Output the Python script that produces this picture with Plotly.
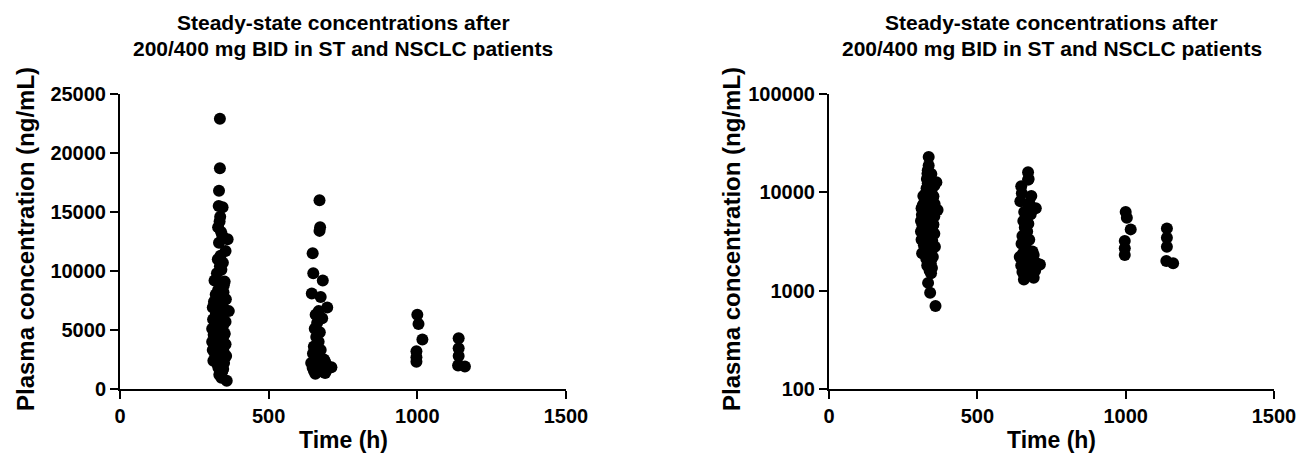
import plotly.graph_objects as go

# Steady-state plasma concentrations (ng/mL) by sampling time (h)
time_day14 = [336, 336, 333, 332, 345, 337, 335, 330, 340, 344, 362, 333, 355, 338, 329, 346,
              336, 341, 326, 318, 352, 335, 343, 330, 348, 322, 338, 356, 316, 333, 345, 327,
              312, 340, 366, 350, 322, 335, 344, 313, 330, 355, 338, 320, 346, 310, 332, 342,
              325, 352, 315, 337, 347, 322, 330, 340, 310, 334, 355, 318, 344, 326, 337, 312,
              348, 331, 341, 320, 357, 334, 325, 345, 314, 338, 350, 328, 336, 343, 331, 347,
              339, 344, 334, 341, 359, 328, 339, 321, 351, 317, 336, 324, 342, 329, 349]
conc_day14 = [22900, 18700, 16800, 15500, 15400, 14600, 14200, 13700, 13300, 13000, 12700, 12400,
              11700, 11300, 11000, 10700, 10400, 10100, 9800, 9200, 9100, 8900, 8600, 8400,
              8200, 8000, 7800, 7600, 7400, 7300, 7100, 7000, 6900, 6800, 6600, 6500, 6300,
              6200, 6000, 5900, 5800, 5700, 5600, 5400, 5300, 5100, 5000, 4900, 4800, 4700,
              4600, 4500, 4400, 4300, 4200, 4100, 4000, 3900, 3800, 3700, 3600, 3500, 3400,
              3300, 3200, 3100, 3000, 2900, 2800, 2700, 2600, 2500, 2400, 2300, 2200, 2100,
              2000, 1900, 1800, 1700, 1600, 1500, 1200, 950, 700, 7700, 6700, 5500, 4650,
              3850, 3350, 2950, 5200, 6100, 8800]

time_day28 = [671, 673, 671, 648, 650, 682, 645, 675, 697, 668, 658, 680, 663, 655, 672, 660,
              668, 652, 675, 649, 665, 686, 654, 690, 643, 672, 660, 700, 711, 648, 681, 664,
              695, 652, 676, 660, 690, 657, 666, 684]
conc_day28 = [16000, 13700, 13400, 11500, 9800, 9200, 8100, 7800, 6900, 6600, 6300, 6000,
              5600, 5100, 4800, 4400, 4000, 3600, 3300, 3000, 2700, 2500, 2400, 2300, 2200,
              2100, 2000, 1900, 1850, 1800, 1750, 1700, 1600, 1550, 1500, 1400, 1350, 1300,
              1950, 2250]

time_day42 = [1000, 1004, 1017, 997, 997, 997]
conc_day42 = [6300, 5500, 4200, 3200, 2700, 2300]

time_day48 = [1139, 1139, 1139, 1137, 1160]
conc_day48 = [4300, 3450, 2800, 2000, 1900]

all_time = time_day14 + time_day28 + time_day42 + time_day48
all_conc = conc_day14 + conc_day28 + conc_day42 + conc_day48

title_lines = ["Steady-state concentrations after", "200/400 mg BID in ST and NSCLC patients"]
x_ticks = [0, 500, 1000, 1500]
y_lin_ticks = [0, 5000, 10000, 15000, 20000, 25000]
y_log_ticks = [100, 1000, 10000, 100000]

FONT = "Liberation Sans, Arial, sans-serif"
W, H = 1302, 458


def bfont(size):
    return dict(family=FONT, size=size, color="black", weight="bold")


fig = go.Figure()
marker = dict(color="black", size=12, line=dict(width=0))
fig.add_trace(go.Scatter(x=all_time, y=all_conc, mode="markers", marker=marker,
                         xaxis="x", yaxis="y", showlegend=False))
fig.add_trace(go.Scatter(x=all_time, y=all_conc, mode="markers", marker=marker,
                         xaxis="x2", yaxis="y2", showlegend=False))

ydom = [1 - 389 / H, 1 - 94 / H]
axis_common = dict(showline=True, linecolor="black", linewidth=2, ticks="outside",
                   ticklen=8, tickwidth=2, tickcolor="black", showgrid=False,
                   zeroline=False, automargin=False, tickfont=bfont(20))

fig.update_layout(
    width=W, height=H,
    margin=dict(l=0, r=0, t=0, b=0, pad=0, autoexpand=False),
    paper_bgcolor="white", plot_bgcolor="white",
    font=dict(family=FONT, color="black"),
    xaxis=dict(domain=[120 / W, 566 / W], range=[0, 1500], tickvals=x_ticks,
               ticktext=[str(v) for v in x_ticks], anchor="y", **axis_common),
    yaxis=dict(domain=ydom, range=[0, 25000], tickvals=y_lin_ticks,
               ticktext=[str(v) for v in y_lin_ticks], anchor="x", **axis_common),
    xaxis2=dict(domain=[829 / W, 1274 / W], range=[0, 1500], tickvals=x_ticks,
                ticktext=[str(v) for v in x_ticks], anchor="y2", **axis_common),
    yaxis2=dict(domain=ydom, type="log", range=[2, 5], tickvals=y_log_ticks,
                ticktext=[str(v) for v in y_log_ticks], anchor="x2", **axis_common),
)

ann = []
for cx, ycx in [((120 + 566) / 2, 25), ((829 + 1274) / 2, 731)]:
    for i, line in enumerate(title_lines):
        ann.append(dict(text=line, x=cx / W, y=1 - (22 + 26 * i) / H,
                        xref="paper", yref="paper", xanchor="center", yanchor="middle",
                        showarrow=False, font=bfont(21)))
    ann.append(dict(text="Time (h)", x=cx / W, y=1 - 440 / H, xref="paper", yref="paper",
                    xanchor="center", yanchor="middle", showarrow=False, font=bfont(23)))
    ann.append(dict(text="Plasma concentration (ng/mL)", x=ycx / W, y=1 - 239 / H,
                    xref="paper", yref="paper", xanchor="center", yanchor="middle",
                    showarrow=False, textangle=-90, font=bfont(24)))
fig.update_layout(annotations=ann)

fig.write_html("out.html")
